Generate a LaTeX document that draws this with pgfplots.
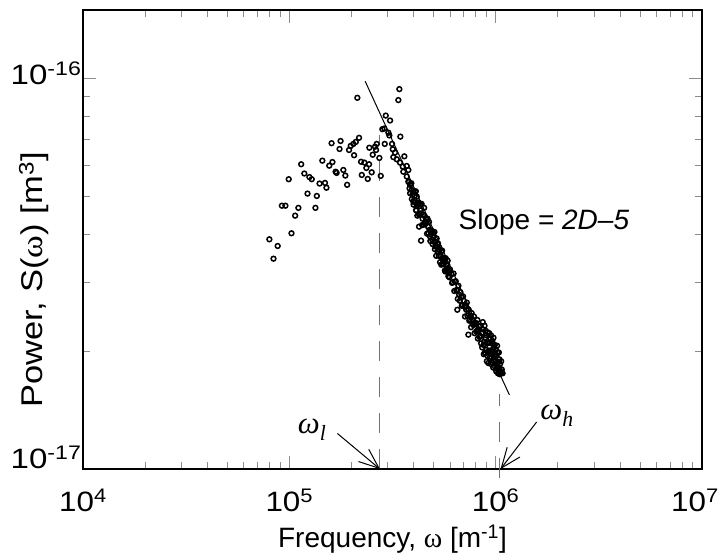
\documentclass[border=0pt]{standalone}
\usepackage{fontspec}
\setmainfont{Liberation Sans}
\newfontfamily\serif{Liberation Serif}
\usepackage{graphicx}
\usepackage{pgfplots}
\usepackage{pgfplotstable}
\pgfplotsset{compat=1.18}
\usetikzlibrary{arrows.meta}
\newcommand{\wide}[2][1.12]{\scalebox{#1}[1]{#2}}
\pgfplotstableread{
x y
8.00e4 3.88e-17
8.38e4 3.46e-17
8.78e4 3.73e-17
1.024e5 4.02e-17
1.067e5 4.46e-17
1.106e5 4.67e-17
9.20e4 4.73e-17
9.57e4 4.73e-17
9.93e4 5.53e-17
1.141e5 6.04e-17
1.182e5 5.72e-17
1.225e5 5.08e-17
1.251e5 5.60e-17
1.284e5 5.53e-17
1.338e5 4.67e-17
1.359e5 5.01e-17
1.401e5 5.39e-17
1.445e5 6.17e-17
1.489e5 5.41e-17
1.513e5 5.26e-17
1.561e5 5.99e-17
1.602e5 6.84e-17
1.618e5 6.12e-17
1.676e5 5.78e-17
1.695e5 5.74e-17
1.771e5 6.93e-17
1.751e5 6.61e-17
1.827e5 5.84e-17
1.868e5 5.65e-17
1.906e5 5.35e-17
1.947e5 6.57e-17
1.984e5 6.73e-17
2.043e5 6.81e-17
2.099e5 6.89e-17
2.177e5 7.06e-17
2.059e5 6.37e-17
2.136e5 8.94e-17
2.226e5 6.13e-17
2.310e5 6.10e-17
2.434e5 6.04e-17
2.362e5 5.91e-17
2.507e5 5.76e-17
2.244e5 5.67e-17
2.399e5 5.54e-17
2.773e5 5.64e-17
2.652e5 6.81e-17
2.602e5 6.70e-17
2.442e5 6.66e-17
2.632e5 6.57e-17
2.536e5 6.39e-17
2.731e5 6.27e-17
2.900e5 6.81e-17
3.146e5 6.81e-17
2.823e5 7.43e-17
2.887e5 7.46e-17
2.933e5 8.05e-17
3.077e5 7.82e-17
3.019e5 7.28e-17
3.053e5 7.16e-17
3.451e5 7.11e-17
3.413e5 9.41e-17
3.375e5 8.82e-17
3.171e5 6.60e-17
3.253e5 6.47e-17
3.192e5 6.30e-17
3.316e5 6.22e-17
3.609e5 6.33e-17
3.440e5 6.10e-17
3.545e5 5.96e-17
3.707e5 5.98e-17
3.774e5 5.84e-17
3.569e5 5.78e-17
3.707e5 5.62e-17
3.774e5 5.45e-17
3.846e5 5.35e-17
3.920e5 5.19e-17
4.145e5 4.99e-17
3.992e5 4.84e-17
4.220e5 4.80e-17
4.113e5 4.61e-17
4.173e5 4.46e-17
4.348e5 3.85e-17
7.375e5 2.21e-17
4.253e5 4.18e-17
6.52e5 2.56e-17
3.80e5 5.44e-17
3.85e5 5.09e-17
3.90e5 5.40e-17
3.95e5 5.05e-17
4.00e5 4.76e-17
4.05e5 5.01e-17
4.10e5 5.15e-17
4.15e5 4.72e-17
4.20e5 4.75e-17
4.25e5 4.49e-17
4.30e5 4.77e-17
4.35e5 4.52e-17
4.40e5 4.22e-17
4.45e5 4.49e-17
4.50e5 4.67e-17
4.55e5 4.24e-17
4.60e5 4.37e-17
4.65e5 4.01e-17
4.70e5 4.18e-17
4.75e5 4.30e-17
4.80e5 3.95e-17
4.85e5 3.99e-17
4.90e5 4.06e-17
4.95e5 3.77e-17
5.00e5 3.93e-17
5.05e5 4.05e-17
5.10e5 3.72e-17
5.15e5 3.52e-17
5.20e5 3.72e-17
5.25e5 3.79e-17
5.30e5 3.52e-17
5.35e5 3.64e-17
5.40e5 3.53e-17
5.45e5 3.34e-17
5.50e5 3.63e-17
5.55e5 3.45e-17
5.60e5 3.35e-17
5.65e5 3.46e-17
5.70e5 3.21e-17
5.75e5 3.35e-17
5.80e5 3.25e-17
5.85e5 3.42e-17
5.90e5 3.12e-17
5.95e5 3.19e-17
6.00e5 3.25e-17
3.825e5 5.24e-17
3.875e5 5.38e-17
3.925e5 4.92e-17
3.975e5 5.12e-17
4.025e5 4.89e-17
4.075e5 5.13e-17
4.125e5 4.60e-17
4.175e5 4.79e-17
4.225e5 4.82e-17
4.275e5 4.51e-17
4.325e5 4.60e-17
4.375e5 4.78e-17
4.425e5 4.38e-17
4.475e5 4.23e-17
4.525e5 4.45e-17
4.575e5 4.26e-17
4.625e5 4.30e-17
4.675e5 4.38e-17
4.725e5 4.02e-17
4.775e5 4.10e-17
4.825e5 3.84e-17
4.875e5 4.09e-17
4.925e5 3.87e-17
4.975e5 4.03e-17
5.025e5 3.82e-17
5.075e5 3.66e-17
5.125e5 3.82e-17
5.175e5 3.90e-17
5.225e5 3.62e-17
5.275e5 3.66e-17
5.325e5 3.70e-17
5.375e5 3.39e-17
5.425e5 3.51e-17
5.475e5 3.62e-17
5.525e5 3.36e-17
5.575e5 3.47e-17
5.625e5 3.40e-17
5.675e5 3.23e-17
5.725e5 3.47e-17
5.775e5 3.23e-17
5.825e5 3.34e-17
5.875e5 3.20e-17
5.925e5 3.24e-17
5.975e5 3.10e-17
6.10e5 3.16e-17
6.15e5 3.00e-17
6.20e5 3.01e-17
6.25e5 3.17e-17
6.30e5 2.86e-17
6.35e5 3.02e-17
6.40e5 3.03e-17
6.45e5 2.87e-17
6.50e5 2.88e-17
6.55e5 2.73e-17
6.60e5 2.95e-17
6.65e5 2.80e-17
6.70e5 2.70e-17
6.75e5 2.84e-17
6.80e5 2.76e-17
6.85e5 2.62e-17
6.90e5 2.63e-17
6.95e5 2.77e-17
7.00e5 2.70e-17
7.05e5 2.61e-17
7.10e5 2.46e-17
7.15e5 2.63e-17
7.20e5 2.56e-17
7.25e5 2.67e-17
7.30e5 2.47e-17
7.35e5 2.57e-17
7.40e5 2.56e-17
7.45e5 2.40e-17
7.50e5 2.42e-17
7.55e5 2.47e-17
7.60e5 2.31e-17
7.65e5 2.51e-17
7.70e5 2.42e-17
7.75e5 2.35e-17
7.80e5 2.34e-17
7.85e5 2.46e-17
7.90e5 2.23e-17
7.95e5 2.35e-17
8.00e5 2.37e-17
8.05e5 2.25e-17
8.10e5 2.26e-17
8.15e5 2.41e-17
8.20e5 2.16e-17
8.25e5 2.28e-17
8.30e5 2.32e-17
8.35e5 2.18e-17
8.40e5 2.19e-17
8.45e5 2.33e-17
8.50e5 2.10e-17
8.55e5 2.23e-17
8.60e5 2.05e-17
8.63e5 2.24e-17
8.66e5 2.38e-17
8.70e5 2.28e-17
8.73e5 2.08e-17
8.76e5 1.97e-17
8.80e5 2.12e-17
8.83e5 2.33e-17
8.86e5 1.99e-17
8.90e5 2.17e-17
8.93e5 1.98e-17
8.96e5 2.26e-17
9.00e5 2.02e-17
9.03e5 2.20e-17
9.06e5 1.89e-17
9.10e5 2.10e-17
9.13e5 1.95e-17
9.16e5 2.24e-17
9.20e5 1.87e-17
9.23e5 2.11e-17
9.26e5 2.01e-17
9.30e5 2.23e-17
9.33e5 2.01e-17
9.36e5 2.11e-17
9.40e5 1.94e-17
9.43e5 2.16e-17
9.46e5 1.86e-17
9.50e5 2.20e-17
9.53e5 2.00e-17
9.56e5 2.10e-17
9.60e5 1.88e-17
9.63e5 2.13e-17
9.66e5 1.96e-17
9.70e5 2.03e-17
9.73e5 1.82e-17
9.76e5 2.17e-17
9.80e5 1.89e-17
9.83e5 2.05e-17
9.86e5 1.95e-17
9.90e5 2.08e-17
9.93e5 1.83e-17
9.96e5 1.97e-17
1.000e6 1.89e-17
1.003e6 2.02e-17
1.006e6 1.78e-17
1.010e6 1.96e-17
1.013e6 1.81e-17
1.016e6 2.07e-17
1.020e6 1.83e-17
1.023e6 1.99e-17
1.026e6 1.76e-17
1.030e6 1.88e-17
1.033e6 1.77e-17
1.036e6 1.99e-17
1.040e6 1.81e-17
1.043e6 1.91e-17
1.046e6 1.75e-17
1.050e6 1.86e-17
1.053e6 1.77e-17
1.060e6 1.78e-17
1.063e6 1.89e-17
1.070e6 1.80e-17
1.073e6 1.77e-17
1.080e6 1.76e-17
}\spectrum
\begin{document}
\begin{tikzpicture}
\path[use as bounding box] (-83pt,-90pt) rectangle (639pt,469pt);
\begin{axis}[
  at={(0pt,0pt)}, anchor=south west,
  scale only axis, width=619pt, height=459pt,
  xmode=log, ymode=log,
  xmin=1e4, xmax=1e7, ymin=1e-17, ymax=1.5e-16,
  xtick={1e4,1e5,1e6,1e7},
  xticklabels={\wide{10\textsuperscript{4}},\wide{10\textsuperscript{5}},\wide{10\textsuperscript{6}},\wide{10\textsuperscript{7}}\hspace*{14pt}},
  minor xtick={2e4,3e4,4e4,5e4,6e4,7e4,8e4,9e4,2e5,3e5,4e5,5e5,6e5,7e5,8e5,9e5,2e6,3e6,4e6,5e6,6e6,7e6,8e6,9e6},
  ytick={1e-17,1e-16},
  yticklabels={\raisebox{1pt}{\wide[1.18]{10\textsuperscript{-17}}},\raisebox{-6pt}{\wide[1.18]{10\textsuperscript{-16}}}},
  minor ytick={2e-17,3e-17,4e-17,5e-17,6e-17,7e-17,8e-17,9e-17},
  tick align=inside,
  major tick length=13pt, minor tick length=7pt,
  every tick/.style={black!45, line width=0.8pt},
  axis line style={line width=1.6pt},
  xticklabel style={font=\fontsize{28}{30}\selectfont, anchor=base, yshift=-42pt},
  yticklabel style={font=\fontsize{28}{30}\selectfont, anchor=base east, xshift=2pt},
  xlabel={Frequency, {\serif ω} [m\textsuperscript{-1}]},
  ylabel={\wide[1.15]{Power, S({\serif ω}) [m\textsuperscript{3}]}},
  xlabel style={at={(axis description cs:0.5,-0.170)}, anchor=base, font=\fontsize{28}{30}\selectfont},
  ylabel style={at={(axis description cs:-0.0651,0.412)}, anchor=base, font=\fontsize{30}{32}\selectfont},
  clip=false,
]
\addplot[black!55, line width=1pt, dash pattern=on 20pt off 16pt] coordinates {(2.75e5,1e-17) (2.75e5,7.2e-17)};
\addplot[black!55, line width=1pt, dash pattern=on 20pt off 16pt] coordinates {(1.04e6,9.5e-18) (1.04e6,1.556e-17)};
\addplot[black, line width=1pt] coordinates {(2.33e5,9.86e-17) (1.165e6,1.55e-17)};
\addplot[only marks, mark=o, mark size=2.4pt, black, mark options={line width=1.5pt}] table[x=x,y=y] {\spectrum};
\draw[line width=1pt, -{Straight Barb[length=20pt,width=16pt]}] (axis cs:1.709e5,1.234e-17) -- (axis cs:2.75e5,1.0e-17);
\draw[line width=1pt, -{Straight Barb[length=20pt,width=16pt]}] (axis cs:1.579e6,1.32e-17) -- (axis cs:1.056e6,1.0e-17);
\node[font=\fontsize{31}{33}\selectfont] at (axis cs:1.29e5,1.26e-17) {\serif\itshape ω\textsubscript{l}};
\node[font=\fontsize{31}{33}\selectfont] at (axis cs:1.985e6,1.37e-17) {\serif\itshape ω\textsubscript{h}};
\node[anchor=west, font=\fontsize{28}{30}\selectfont] at (axis cs:6.36e5,4.30e-17) {Slope = \textit{2D–5}};
\end{axis}
\end{tikzpicture}
\end{document}
